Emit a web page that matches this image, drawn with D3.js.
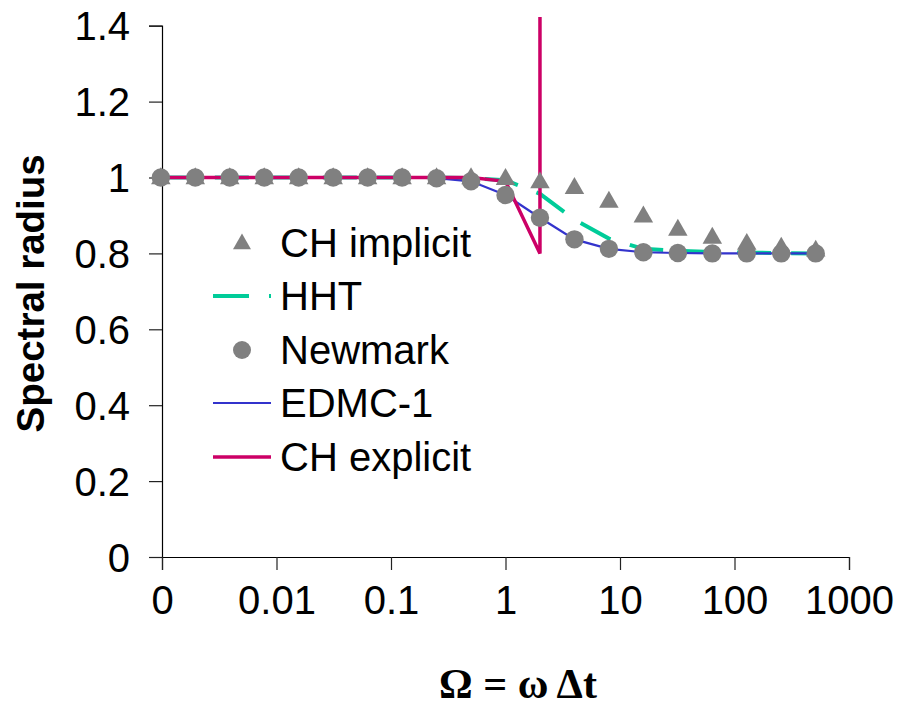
<!DOCTYPE html>
<html>
<head>
<meta charset="utf-8">
<script src="https://cdn.jsdelivr.net/npm/d3@7"></script>
<style>
  html, body { margin: 0; padding: 0; background: #fff; }
  svg { display: block; }
  text { font-family: "Liberation Sans", Arial, sans-serif; fill: #000; }
</style>
</head>
<body>
<svg id="chart" width="898" height="709"></svg>
<script>
// ---------------- data ----------------
const omega = [0.0009765625, 0.001953125, 0.00390625, 0.0078125, 0.015625, 0.03125, 0.0625, 0.125, 0.25, 0.5,
               1, 2, 4, 8, 16, 32, 64, 128, 256, 512];
const chImplicit = [1, 1, 1, 1, 1, 1, 1, 1, 1, 1,
                    0.998, 0.989, 0.974, 0.938, 0.899, 0.864, 0.843, 0.827, 0.817, 0.809];
const hht        = [1, 1, 1, 1, 1, 1, 1, 1, 1, 0.998,
                    0.993, 0.957, 0.889, 0.839, 0.812, 0.807, 0.804, 0.802, 0.801, 0.800];
const newmark    = [1, 1, 1, 1, 1, 1, 1, 1, 0.998, 0.99,
                    0.954, 0.894, 0.837, 0.812, 0.803, 0.801, 0.800, 0.800, 0.800, 0.800];
const edmc1      = [1, 1, 1, 1, 1, 1, 1, 1, 0.998, 0.99,
                    0.954, 0.894, 0.837, 0.812, 0.803, 0.801, 0.800, 0.800, 0.800, 0.800];
const chExplicit = [1, 1, 1, 1, 1, 1, 1, 1, 1, 1,
                    0.99, 0.80, 1e6, null, null, null, null, null, null, null];

const xTickValues = [0.001, 0.01, 0.1, 1, 10, 100, 1000];
const xTickLabels = ["0", "0.01", "0.1", "1", "10", "100", "1000"];
const yTickValues = [0, 0.2, 0.4, 0.6, 0.8, 1, 1.2, 1.4];
const yTickLabels = ["0", "0.2", "0.4", "0.6", "0.8", "1", "1.2", "1.4"];
const seriesNames = ["CH implicit", "HHT", "Newmark", "EDMC-1", "CH explicit"];
const yClipTop = 1.4226;

// ---------------- layout ----------------
const svg = d3.select("#chart");
const x = d3.scaleLog().domain([0.001, 1000]).range([162, 849]);
const y = d3.scaleLinear().domain([0, 1.4]).range([557, 25.7]);

const C = { grey: "#808080", teal: "#00CC99", blue: "#3333CC", magenta: "#CC0066" };
const FS = 40;

// clip
svg.append("defs").append("clipPath").attr("id", "plotclip")
  .append("rect")
  .attr("x", x(0.001) - 12).attr("y", y(yClipTop))
  .attr("width", x(1000) - x(0.001) + 24).attr("height", y(0) - y(yClipTop) + 12);

// axes
const yAxis = d3.axisLeft(y).tickValues(yTickValues)
  .tickFormat((d, i) => yTickLabels[i]).tickSizeOuter(0).tickSize(13).tickPadding(19);
const gy = svg.append("g").attr("transform", `translate(${x(0.001)},0)`).call(yAxis);
gy.selectAll("text").style("font-size", FS + "px").attr("dy", "0.35em");

const xAxis = d3.axisBottom(x).tickValues(xTickValues)
  .tickFormat((d, i) => xTickLabels[i]).tickSizeOuter(0).tickSize(13).tickPadding(44);
const gx = svg.append("g").attr("transform", `translate(0,${y(0)})`).call(xAxis);
gx.selectAll("text").style("font-size", FS + "px").attr("dy", "0");

svg.selectAll(".domain").attr("stroke", "#000").attr("stroke-width", 1.2);
svg.selectAll(".tick line").attr("stroke", "#222").attr("stroke-width", 1.2);

// axis titles
svg.append("text")
  .attr("transform", `translate(44,${(y(0) + y(1.4)) / 2 + 2}) rotate(-90)`)
  .attr("text-anchor", "middle")
  .style("font-size", "38.5px").style("font-weight", "bold")
  .text("Spectral radius");

svg.append("text")
  .attr("x", 518).attr("y", 698)
  .attr("text-anchor", "middle")
  .style("font-family", "'Liberation Serif', 'Times New Roman', serif")
  .style("font-size", "42px").style("font-weight", "bold")
  .text("Ω = ω Δt");

// ---------------- marks ----------------
const plot = svg.append("g").attr("clip-path", "url(#plotclip)");
const mk = arr => omega.map((o, i) => ({ x: o, y: arr[i] }));
const line = d3.line().defined(d => d.y !== null).x(d => x(d.x)).y(d => y(d.y));

plot.append("path").datum(mk(hht)).attr("d", line)
  .attr("fill", "none").attr("stroke", C.teal).attr("stroke-width", 4)
  .attr("stroke-dasharray", "34,20");
plot.append("path").datum(mk(edmc1)).attr("d", line)
  .attr("fill", "none").attr("stroke", C.blue).attr("stroke-width", 2.2);
plot.append("path").datum(mk(chExplicit)).attr("d", line)
  .attr("fill", "none").attr("stroke", C.magenta).attr("stroke-width", 3.5)
  .attr("stroke-linejoin", "miter");

const tri = d3.symbol().type(d3.symbolTriangle).size(165);
plot.selectAll(".tri").data(mk(chImplicit)).enter().append("path")
  .attr("d", tri)
  .attr("transform", d => `translate(${x(d.x)},${y(d.y) + 1})`)
  .attr("fill", C.grey);
plot.selectAll(".circ").data(mk(newmark)).enter().append("circle")
  .attr("cx", d => x(d.x)).attr("cy", d => y(d.y)).attr("r", 9.2)
  .attr("fill", C.grey);

// ---------------- legend ----------------
const lg = svg.append("g");
const rows = [243, 296, 350, 403, 457];
const textX = 280;
seriesNames.forEach((name, i) => {
  lg.append("text").attr("x", textX).attr("y", rows[i] + 14)
    .style("font-size", FS + "px").text(name);
});
const triL = d3.symbol().type(d3.symbolTriangle).size(140);
lg.append("path").attr("d", triL).attr("transform", `translate(242,${rows[0] + 1})`).attr("fill", C.grey);
lg.append("line").attr("x1", 213).attr("x2", 271).attr("y1", rows[1]).attr("y2", rows[1])
  .attr("stroke", C.teal).attr("stroke-width", 4).attr("stroke-dasharray", "36,20");
lg.append("circle").attr("cx", 242).attr("cy", rows[2]).attr("r", 9).attr("fill", C.grey);
lg.append("line").attr("x1", 213).attr("x2", 271).attr("y1", rows[3]).attr("y2", rows[3])
  .attr("stroke", C.blue).attr("stroke-width", 2.2);
lg.append("line").attr("x1", 213).attr("x2", 271).attr("y1", rows[4]).attr("y2", rows[4])
  .attr("stroke", C.magenta).attr("stroke-width", 3.5);
</script>
</body>
</html>
